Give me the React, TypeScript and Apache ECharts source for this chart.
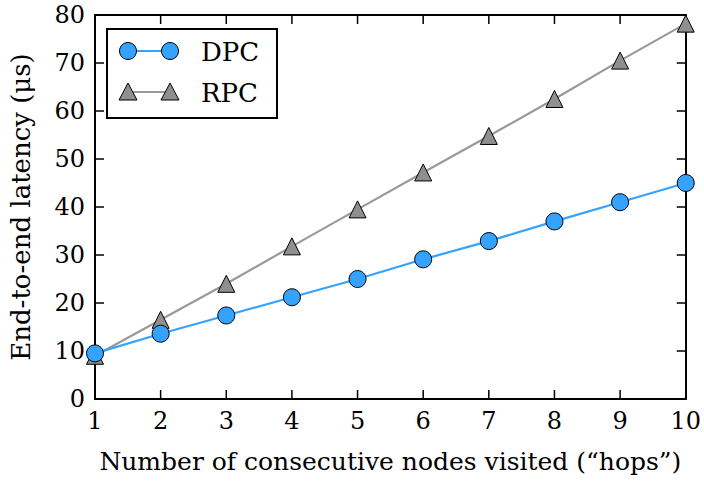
import React, { useEffect, useRef } from "react";
import * as echarts from "echarts";

const hops = [1, 2, 3, 4, 5, 6, 7, 8, 9, 10];
const dpc = [9.5, 13.6, 17.4, 21.2, 25.0, 29.1, 32.9, 37.0, 41.0, 45.0];
const rpc = [9.0, 16.5, 24.0, 31.8, 39.5, 47.2, 54.8, 62.5, 70.5, 78.2];
const xTicks = [1, 2, 3, 4, 5, 6, 7, 8, 9, 10];
const yTicks = [0, 10, 20, 30, 40, 50, 60, 70, 80];

const FONT = "DejaVu Serif";
const BLUE = "#33a3ff";
const GRAYLINE = "#999999";
const GRAYFILL = "#8f8f8f";
const TICK = 9;
const X_MIN = 1, X_MAX = 10, Y_MIN = 0, Y_MAX = 80;

export default function App() {
  const ref = useRef<HTMLDivElement>(null);
  useEffect(() => {
    const chart = echarts.init(ref.current!, undefined, { renderer: "svg" });
    const mkLine = () => ({ show: true, onZero: false, lineStyle: { color: "#000", width: 2 } });
    const lbl = { color: "#000", fontFamily: FONT, fontSize: 24 };
    const tickStyle = { stroke: "#000", lineWidth: 1.5 };
    chart.setOption({
      animation: false,
      backgroundColor: "#fff",
      grid: { left: 93, top: 15, width: 595, height: 384, containLabel: false },
      xAxis: [
        {
          type: "value", min: X_MIN, max: X_MAX, interval: 1, position: "bottom",
          axisLine: mkLine(), axisTick: { show: false }, splitLine: { show: false },
          axisLabel: { ...lbl, margin: 10 },
          name: "Number of consecutive nodes visited (\u201chops\u201d)",
          nameLocation: "middle", nameGap: 50,
          nameTextStyle: { color: "#000", fontFamily: FONT, fontSize: 25 },
        },
        {
          type: "value", min: X_MIN, max: X_MAX, interval: 1, position: "top",
          axisLine: mkLine(), axisTick: { show: false }, splitLine: { show: false },
          axisLabel: { show: false },
        },
      ],
      yAxis: [
        {
          type: "value", min: Y_MIN, max: Y_MAX, interval: 10, position: "left",
          axisLine: mkLine(), axisTick: { show: false }, splitLine: { show: false },
          axisLabel: { ...lbl, margin: 10 },
          name: "End-to-end latency (\u03bcs)",
          nameLocation: "middle", nameGap: 61,
          nameTextStyle: { color: "#000", fontFamily: FONT, fontSize: 26 },
        },
        {
          type: "value", min: Y_MIN, max: Y_MAX, interval: 10, position: "right",
          axisLine: mkLine(), axisTick: { show: false }, splitLine: { show: false },
          axisLabel: { show: false },
        },
      ],
      series: [
        {
          name: "xticks", type: "custom", silent: true, z: 1,
          xAxisIndex: 0, yAxisIndex: 0,
          data: xTicks.map((v) => [v, Y_MIN]),
          renderItem: (params: any, api: any) => {
            const v = api.value(0);
            const b = api.coord([v, Y_MIN]);
            const t = api.coord([v, Y_MAX]);
            return {
              type: "group",
              children: [
                { type: "line", shape: { x1: b[0], y1: b[1], x2: b[0], y2: b[1] - TICK }, style: tickStyle },
                { type: "line", shape: { x1: t[0], y1: t[1], x2: t[0], y2: t[1] + TICK }, style: tickStyle },
              ],
            };
          },
        },
        {
          name: "yticks", type: "custom", silent: true, z: 1,
          xAxisIndex: 0, yAxisIndex: 0,
          data: yTicks.map((v) => [X_MIN, v]),
          renderItem: (params: any, api: any) => {
            const v = api.value(1);
            const l = api.coord([X_MIN, v]);
            const r = api.coord([X_MAX, v]);
            return {
              type: "group",
              children: [
                { type: "line", shape: { x1: l[0], y1: l[1], x2: l[0] + TICK, y2: l[1] }, style: tickStyle },
                { type: "line", shape: { x1: r[0], y1: r[1], x2: r[0] - TICK, y2: r[1] }, style: tickStyle },
              ],
            };
          },
        },
        {
          name: "RPC", type: "line", data: hops.map((h, i) => [h, rpc[i]]),
          xAxisIndex: 0, yAxisIndex: 0,
          symbol: "triangle", symbolSize: 17,
          lineStyle: { color: GRAYLINE, width: 2.2 },
          itemStyle: { color: GRAYFILL, borderColor: "#000", borderWidth: 1 },
          z: 2,
        },
        {
          name: "DPC", type: "line", data: hops.map((h, i) => [h, dpc[i]]),
          xAxisIndex: 0, yAxisIndex: 0,
          symbol: "circle", symbolSize: 17,
          lineStyle: { color: BLUE, width: 2.2 },
          itemStyle: { color: BLUE, borderColor: "#000", borderWidth: 1 },
          z: 3,
        },
      ],
      graphic: [
        {
          type: "rect", shape: { x: 107, y: 29, width: 170, height: 89 },
          style: { fill: "#fff", stroke: "#000", lineWidth: 2 }, z: 10,
        },
        { type: "line", shape: { x1: 128, y1: 51, x2: 170, y2: 51 }, style: { stroke: BLUE, lineWidth: 2.2 }, z: 11 },
        { type: "circle", shape: { cx: 128, cy: 51, r: 8.5 }, style: { fill: BLUE, stroke: "#000", lineWidth: 1 }, z: 12 },
        { type: "circle", shape: { cx: 170, cy: 51, r: 8.5 }, style: { fill: BLUE, stroke: "#000", lineWidth: 1 }, z: 12 },
        { type: "text", x: 201, y: 52, style: { text: "DPC", fill: "#000", font: `26px '${FONT}'`, verticalAlign: "middle" }, z: 12 },
        { type: "line", shape: { x1: 128, y1: 92, x2: 170, y2: 92 }, style: { stroke: GRAYLINE, lineWidth: 2.2 }, z: 11 },
        { type: "polygon", shape: { points: [[128, 83], [137, 100], [119, 100]] }, style: { fill: GRAYFILL, stroke: "#000", lineWidth: 1 }, z: 12 },
        { type: "polygon", shape: { points: [[170, 83], [179, 100], [161, 100]] }, style: { fill: GRAYFILL, stroke: "#000", lineWidth: 1 }, z: 12 },
        { type: "text", x: 201, y: 93, style: { text: "RPC", fill: "#000", font: `26px '${FONT}'`, verticalAlign: "middle" }, z: 12 },
      ],
    });
    return () => chart.dispose();
  }, []);
  return <div ref={ref} style={{ width: 704, height: 483, position: "absolute", left: 0, top: 0 }} />;
}
